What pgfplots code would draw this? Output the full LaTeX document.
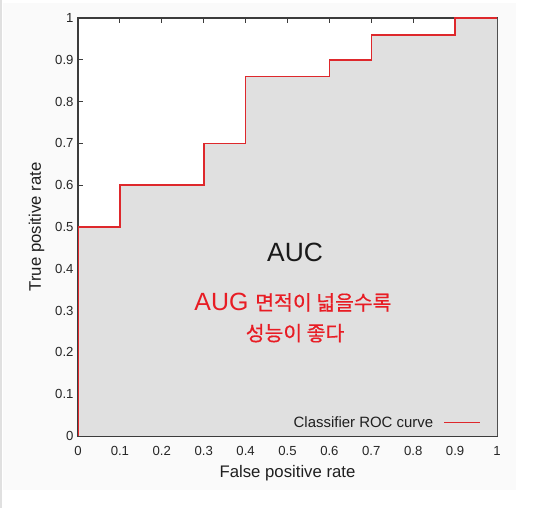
\documentclass[border=0pt]{standalone}
\usepackage{fontspec}
\setmainfont{Liberation Sans}
\newfontfamily\kr{Noto Sans CJK KR}[FakeBold=0.5]
\usepackage{pgfplots}
\pgfplotsset{compat=1.18}
\definecolor{rocred}{RGB}{222,40,44}
\definecolor{aucgray}{RGB}{224,224,224}
\definecolor{txtred}{RGB}{232,28,36}
\definecolor{bgpage}{RGB}{250,250,250}
\definecolor{axgray}{RGB}{60,60,60}
\begin{document}
\begin{tikzpicture}[x=1bp,y=1bp]
\path[use as bounding box] (0,0) rectangle (546,508);
\fill[bgpage] (3,18) rectangle (516,505);
\fill[black!12] (0,0) rectangle (2,508);
\begin{axis}[
  at={(78bp,72bp)}, anchor=south west,
  scale only axis, width=419bp, height=418bp,
  xmin=0, xmax=1, ymin=0, ymax=1,
  xtick={0,0.1,0.2,0.3,0.4,0.5,0.6,0.7,0.8,0.9,1},
  ytick={0,0.1,0.2,0.3,0.4,0.5,0.6,0.7,0.8,0.9,1},
  tick align=inside, major tick length=5bp,
  tick style={axgray, line width=0.9bp},
  axis line style={axgray, line width=1.1bp},
  axis background/.style={fill=white},
  /pgf/number format/assume math mode=true,
  tick label style={font=\fontsize{13.2}{15}\selectfont, text=black!85},
  xticklabel style={yshift=-7bp},
  yticklabel style={xshift=-1bp},
  label style={font=\fontsize{16.8}{19}\selectfont, text=black!88},
  xlabel={False positive rate},
  ylabel={True positive rate},
  xlabel style={yshift=-3bp},
  ylabel style={yshift=4bp},
  legend style={at={(axis cs:0.962,0.012)}, anchor=south east, draw=none, fill=none,
    font=\fontsize{15}{17}\selectfont, text=black!88, legend plot pos=right,
    inner sep=0pt},
  legend image code/.code={\path[draw=none, fill=none] (0bp,-3bp) rectangle (45bp,3bp);
    \draw[rocred, line width=1.4bp] (9bp,0bp) -- (45bp,0bp);},
]
\addplot[fill=aucgray, draw=none, forget plot] coordinates {
 (0,0) (0,0.5) (0.1,0.5) (0.1,0.6) (0.3,0.6) (0.3,0.7) (0.4,0.7) (0.4,0.86)
 (0.6,0.86) (0.6,0.9) (0.7,0.9) (0.7,0.96) (0.9,0.96) (0.9,1) (1,1) (1,0)
} \closedcycle;
\addplot[rocred, line width=1.6bp, line join=miter] coordinates {
 (0,0) (0,0.5) (0.1,0.5) (0.1,0.6) (0.3,0.6) (0.3,0.7) (0.4,0.7) (0.4,0.86)
 (0.6,0.86) (0.6,0.9) (0.7,0.9) (0.7,0.96) (0.9,0.96) (0.9,1) (1,1)
};
\addlegendentry{Classifier ROC curve}
\node[font=\fontsize{26.5}{30}\selectfont, text=black!90] at (axis cs:0.518,0.438) {AUC};
\node[text=txtred] at (axis cs:0.513,0.320) {\fontsize{25}{28}\selectfont AUG {\kr\fontsize{20.5}{24}\selectfont 면적이 넓을수록}};
\node[font=\kr\fontsize{20.5}{24}\selectfont, text=txtred] at (axis cs:0.518,0.246) {성능이 좋다};
\end{axis}
\end{tikzpicture}
\end{document}
